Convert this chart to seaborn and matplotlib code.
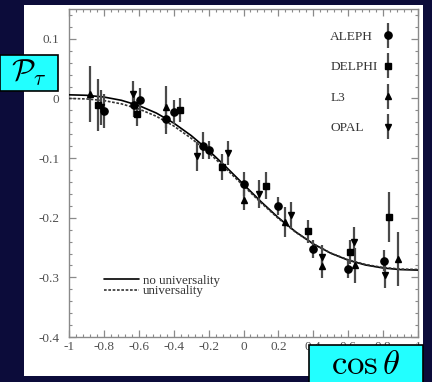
import matplotlib
matplotlib.use('Agg')
import matplotlib.pyplot as plt
import seaborn as sns
import pandas as pd
from matplotlib.patches import Rectangle
from matplotlib.ticker import MultipleLocator
from matplotlib.container import ErrorbarContainer
from matplotlib.legend_handler import HandlerErrorbar

# ---------------- data ----------------
cos_grid = [-1.0, -0.9, -0.8, -0.7, -0.6, -0.5, -0.4, -0.3, -0.2, -0.1, 0.0,
            0.1, 0.2, 0.3, 0.4, 0.5, 0.6, 0.7, 0.8, 0.9, 1.0]
no_univ = [0.0061, 0.0053, 0.0024, -0.0031, -0.0119, -0.0244, -0.0412, -0.0622,
           -0.0870, -0.1148, -0.1440, -0.1730, -0.2000, -0.2239, -0.2438, -0.2595,
           -0.2712, -0.2793, -0.2843, -0.2870, -0.2878]
univ = [0.0, -0.0008, -0.0036, -0.0090, -0.0176, -0.0298, -0.0461, -0.0667,
        -0.0909, -0.1180, -0.1465, -0.1748, -0.2012, -0.2245, -0.2439, -0.2593,
        -0.2706, -0.2785, -0.2835, -0.2861, -0.2868]

aleph_x = [-0.80, -0.628, -0.593, -0.446, -0.398, -0.234, -0.196, 0.003, 0.199, 0.40, 0.60, 0.805]
aleph_y = [-0.021, -0.011, -0.002, -0.034, -0.023, -0.079, -0.087, -0.143, -0.181, -0.253, -0.286, -0.272]
aleph_e = [0.028, 0.020, 0.020, 0.025, 0.020, 0.022, 0.015, 0.020, 0.015, 0.015, 0.015, 0.018]

delphi_x = [-0.835, -0.612, -0.364, -0.121, 0.127, 0.368, 0.61, 0.836]
delphi_y = [-0.011, -0.026, -0.020, -0.115, -0.146, -0.223, -0.258, -0.199]
delphi_e = [0.043, 0.020, 0.020, 0.022, 0.023, 0.020, 0.020, 0.042]

l3_x = [-0.881, -0.446, 0.003, 0.238, 0.452, 0.639, 0.884]
l3_y = [0.008, -0.014, -0.170, -0.207, -0.281, -0.280, -0.269]
l3_e = [0.047, 0.035, 0.017, 0.025, 0.020, 0.030, 0.045]

opal_x = [-0.815, -0.632, -0.268, -0.087, 0.091, 0.272, 0.452, 0.633, 0.811]
opal_y = [-0.015, 0.007, -0.097, -0.091, -0.160, -0.195, -0.266, -0.240, -0.296]
opal_e = [0.030, 0.023, 0.024, 0.020, 0.023, 0.022, 0.020, 0.025, 0.022]

x_ticks = [-1, -0.8, -0.6, -0.4, -0.2, 0, 0.2, 0.4, 0.6, 0.8, 1]
x_ticklabels = ['-1', '-0.8', '-0.6', '-0.4', '-0.2', '0', '0.2', '0.4', '0.6', '0.8', '1']
y_ticks = [-0.4, -0.3, -0.2, -0.1, 0, 0.1]
y_ticklabels = ['-0.4', '-0.3', '-0.2', '-0.1', '0', '0.1']

# ---------------- style ----------------
sns.set_theme(style='ticks')
plt.rcParams['font.family'] = ['Liberation Serif', 'DejaVu Serif']
plt.rcParams['mathtext.fontset'] = 'cm'
plt.rcParams['axes.unicode_minus'] = False

W, H = 432, 382
fig = plt.figure(figsize=(W / 100, H / 100), dpi=100, facecolor='#0c0c3a')
# white slide panel
fig.patches.append(Rectangle((24 / W, 1 - 376 / H), (423 - 24) / W, (376 - 5) / H,
                             transform=fig.transFigure, facecolor='white',
                             edgecolor='none', zorder=-5))

ax = fig.add_axes([69 / W, 1 - 337 / H, 349 / W, 328 / H])
ax.set_facecolor('white')
ax.set_zorder(1)

curves = pd.DataFrame({'cos': cos_grid, 'no': no_univ, 'un': univ})
sns.lineplot(data=curves, x='cos', y='no', ax=ax, color='black', lw=1.2,
             label='no universality', zorder=3)
sns.lineplot(data=curves, x='cos', y='un', ax=ax, color='#333333', lw=1.2,
             linestyle=(0, (1.6, 1.0)), label='universality', zorder=3)

ebar_kw = dict(ls='none', ecolor='#4a4a4a', elinewidth=1.6, capsize=0,
               mfc='black', mec='black', zorder=4)
h1 = ax.errorbar(aleph_x, aleph_y, yerr=aleph_e, marker='o', ms=5.2, label='ALEPH', **ebar_kw)
h2 = ax.errorbar(delphi_x, delphi_y, yerr=delphi_e, marker='s', ms=5.0, label='DELPHI', **ebar_kw)
h3 = ax.errorbar(l3_x, l3_y, yerr=l3_e, marker='^', ms=5.0, label='L3', **ebar_kw)
h4 = ax.errorbar(opal_x, opal_y, yerr=opal_e, marker='v', ms=5.0, label='OPAL', **ebar_kw)

ax.set_xlim(-1, 1)
ax.set_ylim(-0.4, 0.15)
ax.set_xticks(x_ticks)
ax.set_xticklabels(x_ticklabels)
ax.set_yticks(y_ticks)
ax.set_yticklabels(y_ticklabels)
ax.xaxis.set_minor_locator(MultipleLocator(0.04))
ax.yaxis.set_minor_locator(MultipleLocator(0.02))
ax.tick_params(which='both', direction='in', top=True, right=True, color='#8a8a8a')
ax.tick_params(which='major', length=5, width=0.9)
ax.tick_params(which='minor', length=2.5, width=0.8)
ax.tick_params(axis='x', labelsize=9.5, labelcolor='#505050', pad=3)
ax.tick_params(axis='y', labelsize=9.5, labelcolor='#505050', pad=7)
for s in ax.spines.values():
    s.set_visible(True)
    s.set_color('#8a8a8a')
    s.set_linewidth(1.0)
ax.set_xlabel('')
ax.set_ylabel('')

# curve legend (lower left)
line_handles = ax.get_lines()[:2]
leg1 = ax.legend(handles=line_handles, labels=['no universality', 'universality'],
                 loc='upper left', bbox_to_anchor=(0.10, 0.19), frameon=False,
                 fontsize=9.4, handlelength=2.7, handletextpad=0.3,
                 labelspacing=-0.12, borderpad=0, borderaxespad=0,
                 labelcolor='#333333')
ax.add_artist(leg1)

# experiment legend (upper right), labels left-aligned, markers in one column
leg2 = ax.legend(handles=[h1, h2, h3, h4], labels=['ALEPH', 'DELPHI', 'L3', 'OPAL'],
                 loc='upper right', bbox_to_anchor=(0.93, 0.934), frameon=False,
                 fontsize=9.6, markerfirst=False, handlelength=0.8,
                 handletextpad=0.4, labelspacing=1.36, borderpad=0,
                 borderaxespad=0, labelcolor='#333333',
                 handler_map={ErrorbarContainer: HandlerErrorbar(yerr_size=0.95)})

fig.canvas.draw()
renderer = fig.canvas.get_renderer()
widths = [t.get_window_extent(renderer).width for t in leg2.get_texts()]
maxw = max(widths)
for col in leg2._legend_handle_box.get_children():
    for row, w in zip(col.get_children(), widths):
        row.sep = row.sep + (maxw - w) * 72.0 / fig.dpi

# cyan label boxes
fig.patches.append(Rectangle((0, 1 - 91 / H), 58 / W, 36 / H, transform=fig.transFigure,
                             facecolor='#22ffff', edgecolor='black', lw=1.2, zorder=5))
fig.text(29 / W, 1 - 73 / H, r'$\mathcal{P}_\tau$', fontsize=22, ha='center',
         va='center', color='black', zorder=6)
fig.patches.append(Rectangle((309 / W, 1 - 390 / H), (423 - 309) / W, 45 / H,
                             transform=fig.transFigure, facecolor='#22ffff',
                             edgecolor='black', lw=1.2, zorder=5))
fig.text(366 / W, 1 - 366 / H, r'$\cos\theta$', fontsize=25, ha='center',
         va='center', color='black', zorder=6)

fig.savefig('out.png', dpi=100, facecolor=fig.get_facecolor())
